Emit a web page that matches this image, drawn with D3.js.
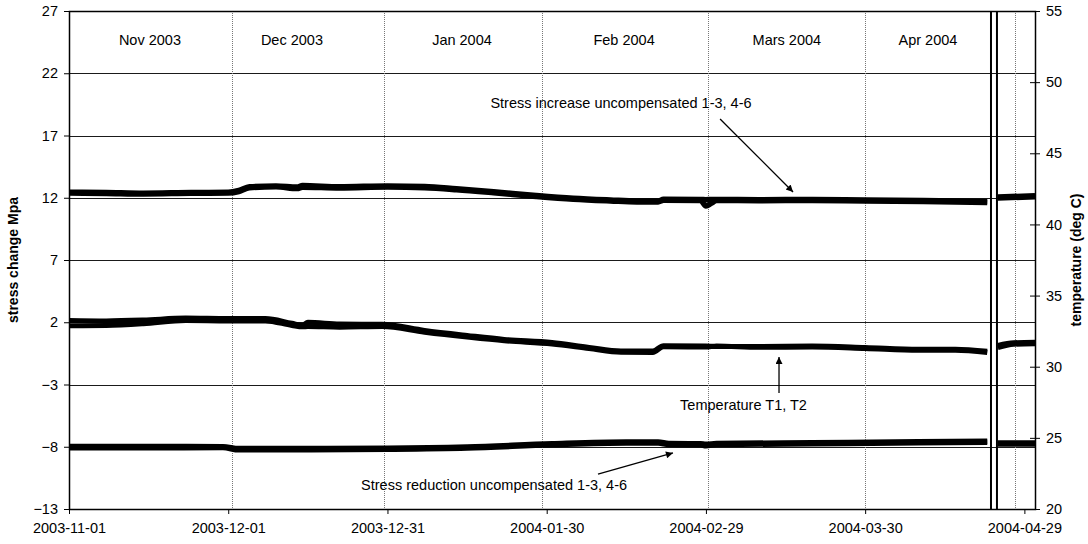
<!DOCTYPE html>
<html><head><meta charset="utf-8">
<script src="https://cdn.jsdelivr.net/npm/d3@7"></script>
<style>
body{margin:0;background:#fff}
text{font-family:"Liberation Sans",Arial,sans-serif;fill:#000}
</style>
</head><body>
<svg id="chart" width="1088" height="544"></svg>
<script>
// ---------- data ----------
const leftTicks = [-13, -8, -3, 2, 7, 12, 17, 22, 27];
const rightTicks = [20, 25, 30, 35, 40, 45, 50, 55];
const xTickDates = ["2003-11-01","2003-12-01","2003-12-31","2004-01-30","2004-02-29","2004-03-30","2004-04-29"];
const xTickLabels = ["2003-11-01","2003-12-01","2003-12-31","2004-01-30","2004-02-29","2004-03-30","2004-04-29"];
const monthLabels = ["Nov 2003","Dec 2003","Jan 2004","Feb 2004","Mars 2004","Apr 2004"];
const monthLabelDates = ["2003-11-16T06:00","2003-12-13T00:00","2004-01-14T01:00","2004-02-13T14:00","2004-03-15T06:00","2004-04-10T20:00"];
const monthLabelLevel = 24.27;
const monthSeparatorDates = ["2003-12-01T17:00","2003-12-30T08:00","2004-01-29T03:00","2004-02-29T09:00","2004-03-30T00:00","2004-04-27T05:30"];
const breakDates = ["2004-04-22T17:00","2004-04-23T20:00"];

// stress increase (left axis), gauges 1-3 and 4-6
const incDates = ["2003-11-01","2003-11-08","2003-11-15","2003-11-24","2003-12-01","2003-12-03","2003-12-05","2003-12-10","2003-12-14","2003-12-15","2003-12-22","2003-12-31","2004-01-07","2004-01-13","2004-01-20","2004-01-28","2004-02-04","2004-02-11","2004-02-16","2004-02-20","2004-02-21","2004-02-28","2004-02-29","2004-03-01","2004-03-02","2004-03-10","2004-03-20","2004-03-30","2004-04-10","2004-04-22","2004-04-23","2004-04-24","2004-05-01"];
const inc13 = [12.45,12.42,12.36,12.42,12.44,12.58,12.88,12.95,12.86,12.98,12.88,12.95,12.90,12.72,12.48,12.18,11.96,11.82,11.74,11.74,11.88,11.86,11.84,11.86,11.86,11.84,11.86,11.82,11.78,11.70,null,12.06,12.16];
const inc46 = [12.38,12.35,12.30,12.36,12.38,12.50,12.80,12.88,12.74,12.85,12.78,12.86,12.80,12.64,12.40,12.10,11.88,11.74,11.66,11.66,11.80,11.78,11.34,11.55,11.78,11.76,11.78,11.74,11.70,11.62,null,11.98,12.08];

// temperature (right axis) T1, T2
const tDates = ["2003-11-01","2003-11-08","2003-11-15","2003-11-23","2003-12-01","2003-12-08","2003-12-13","2003-12-15","2003-12-16","2003-12-22","2003-12-30","2004-01-07","2004-01-15","2004-01-22","2004-01-31","2004-02-07","2004-02-13","2004-02-19","2004-02-21","2004-02-29","2004-03-02","2004-03-10","2004-03-20","2004-03-30","2004-04-09","2004-04-16","2004-04-22","2004-04-23","2004-04-24","2004-04-27","2004-05-01"];
const tempT1 = [33.25,33.22,33.28,33.42,33.38,33.38,33.05,32.92,33.12,33.00,32.98,32.55,32.20,31.92,31.70,31.35,31.10,31.10,31.48,31.45,31.42,31.42,31.45,31.35,31.22,31.22,31.08,null,31.50,31.68,31.72];
const tempT2 = [32.88,32.90,33.02,33.25,33.22,33.22,32.90,32.80,32.82,32.78,32.82,32.42,32.08,31.82,31.60,31.28,31.02,31.00,31.40,31.38,31.45,31.36,31.38,31.28,31.15,31.15,31.00,null,31.35,31.58,31.62];

// stress reduction (left axis), gauges 1-3 and 4-6
const redDates = ["2003-11-01","2003-11-15","2003-11-30","2003-12-03","2003-12-15","2003-12-31","2004-01-15","2004-01-31","2004-02-14","2004-02-20","2004-02-22","2004-02-28","2004-02-29","2004-03-02","2004-03-20","2004-04-09","2004-04-22","2004-04-23","2004-04-24","2004-05-01"];
const red13 = [-7.98,-7.98,-7.99,-8.15,-8.14,-8.12,-8.02,-7.76,-7.62,-7.62,-7.74,-7.76,-7.80,-7.74,-7.68,-7.60,-7.55,null,-7.70,-7.70];
const red46 = [-8.08,-8.08,-8.07,-8.25,-8.24,-8.20,-8.10,-7.84,-7.70,-7.70,-7.82,-7.84,-7.92,-7.82,-7.76,-7.68,-7.63,null,-7.78,-7.78];

// annotations (date, left-axis value)
const annTexts = ["Stress increase uncompensated 1-3, 4-6","Temperature T1, T2","Stress reduction uncompensated 1-3, 4-6"];
const annTextDates = ["2004-02-13T00:00","2004-03-07T02:00","2004-01-20T02:00"];
const annTextLevels = [19.21,-5.05,-11.47];
const annArrowFromDates = ["2004-03-02T16:00","2004-03-13T18:30","2004-02-08T16:00"];
const annArrowFromLevels = [18.33,-3.68,-10.19];
const annArrowToDates = ["2004-03-16T10:00","2004-03-13T18:30","2004-02-22T19:00"];
const annArrowToLevels = [12.46,-0.79,-8.5];

// ---------- drawing ----------
const P = s => new Date(s.length === 10 ? s + "T00:00:00Z" : s + ":00Z");
const m = {l: 69, r: 1035, t: 11, b: 509};
const svg = d3.select("#chart");
const FS = "14.5px";

const x = d3.scaleUtc().domain([P("2003-11-01"), P("2004-05-01")]).range([m.l, m.r]);
const yL = d3.scaleLinear().domain([-13, 27]).range([m.b, m.t]);
const yR = d3.scaleLinear().domain([20, 55]).range([m.b, m.t]);

// horizontal gridlines
svg.append("g").selectAll("line").data(leftTicks.filter(v => v > -13 && v < 27)).join("line")
  .attr("x1", m.l).attr("x2", m.r)
  .attr("y1", d => Math.round(yL(d)) + 0.5).attr("y2", d => Math.round(yL(d)) + 0.5)
  .attr("stroke", "#1a1a1a").attr("stroke-width", 1);

// month separators (dotted)
svg.append("g").selectAll("line").data(monthSeparatorDates).join("line")
  .attr("x1", d => Math.round(x(P(d))) + 0.5).attr("x2", d => Math.round(x(P(d))) + 0.5)
  .attr("y1", m.t).attr("y2", m.b)
  .attr("stroke", "#777").attr("stroke-width", 1).attr("stroke-dasharray", "1,1");

// month labels
svg.append("g").selectAll("text").data(monthLabels).join("text")
  .attr("x", (d, i) => x(P(monthLabelDates[i])))
  .attr("y", yL(monthLabelLevel))
  .attr("text-anchor", "middle").style("font-size", FS).text(d => d);

// series
function drawLine(dates, vals, yS, w) {
  const pts = dates.map((d, i) => [P(d), vals[i]]);
  const line = d3.line().defined(d => d[1] !== null).x(d => x(d[0])).y(d => yS(d[1])).curve(d3.curveMonotoneX);
  svg.append("path").datum(pts).attr("d", line)
    .attr("fill", "none").attr("stroke", "#000").attr("stroke-width", w)
    .attr("stroke-linejoin", "round").attr("stroke-linecap", "butt");
}
drawLine(incDates, inc13, yL, 5.5);
drawLine(incDates, inc46, yL, 5.5);
drawLine(tDates, tempT1, yR, 5);
drawLine(tDates, tempT2, yR, 5);
drawLine(redDates, red13, yL, 5.5);
drawLine(redDates, red46, yL, 5.5);

// break lines
svg.append("g").selectAll("line").data(breakDates).join("line")
  .attr("x1", d => x(P(d))).attr("x2", d => x(P(d)))
  .attr("y1", m.t).attr("y2", m.b)
  .attr("stroke", "#000").attr("stroke-width", 2);

// plot border
svg.append("rect").attr("x", m.l + 0.5).attr("y", m.t + 0.5)
  .attr("width", m.r - m.l).attr("height", m.b - m.t)
  .attr("fill", "none").attr("stroke", "#000").attr("stroke-width", 1.5);

// left axis
const gL = svg.append("g").attr("transform", `translate(${m.l},0)`)
  .call(d3.axisLeft(yL).tickValues(leftTicks).tickSize(5).tickPadding(6).tickFormat(d3.format("d")));
gL.select(".domain").remove();
gL.selectAll("line").attr("stroke", "#000");
gL.selectAll("text").style("font-size", FS).attr("font-family", null);

// right axis (ticks cross)
const gR = svg.append("g").attr("transform", `translate(${m.r},0)`)
  .call(d3.axisRight(yR).tickValues(rightTicks).tickSize(5).tickPadding(6).tickFormat(d3.format("d")));
gR.select(".domain").remove();
gR.selectAll(".tick line").attr("x1", -5).attr("x2", 5).attr("stroke", "#000");
gR.selectAll("text").style("font-size", FS).attr("font-family", null);

// bottom axis
const gB = svg.append("g").attr("transform", `translate(0,${m.b})`)
  .call(d3.axisBottom(x).tickValues(xTickDates.map(P)).tickSize(5).tickPadding(9)
    .tickFormat((d, i) => xTickLabels[i]));
gB.select(".domain").remove();
gB.selectAll("line").attr("stroke", "#000");
gB.selectAll("text").style("font-size", FS).attr("font-family", null);

// axis titles
svg.append("text").attr("transform", `translate(18,${(m.t + m.b) / 2}) rotate(-90)`)
  .attr("text-anchor", "middle").style("font-size", "14px").style("font-weight", "bold")
  .text("stress change Mpa");
svg.append("text").attr("transform", `translate(1081,${(m.t + m.b) / 2}) rotate(-90)`)
  .attr("text-anchor", "middle").style("font-size", "14px").style("font-weight", "bold")
  .text("temperature (deg C)");

// arrow marker
svg.append("defs").append("marker").attr("id", "ah")
  .attr("viewBox", "0 0 10 10").attr("refX", 10).attr("refY", 5)
  .attr("markerWidth", 10).attr("markerHeight", 7).attr("markerUnits", "userSpaceOnUse")
  .attr("orient", "auto")
  .append("path").attr("d", "M0,0 L10,5 L0,10 Z").attr("fill", "#000");

// annotations
annTexts.forEach((t, i) => {
  svg.append("text").attr("x", x(P(annTextDates[i]))).attr("y", yL(annTextLevels[i]))
    .attr("text-anchor", "middle").style("font-size", FS).text(t);
  svg.append("line")
    .attr("x1", x(P(annArrowFromDates[i]))).attr("y1", yL(annArrowFromLevels[i]))
    .attr("x2", x(P(annArrowToDates[i]))).attr("y2", yL(annArrowToLevels[i]))
    .attr("stroke", "#000").attr("stroke-width", 1.3).attr("marker-end", "url(#ah)");
});
</script>
</body></html>
